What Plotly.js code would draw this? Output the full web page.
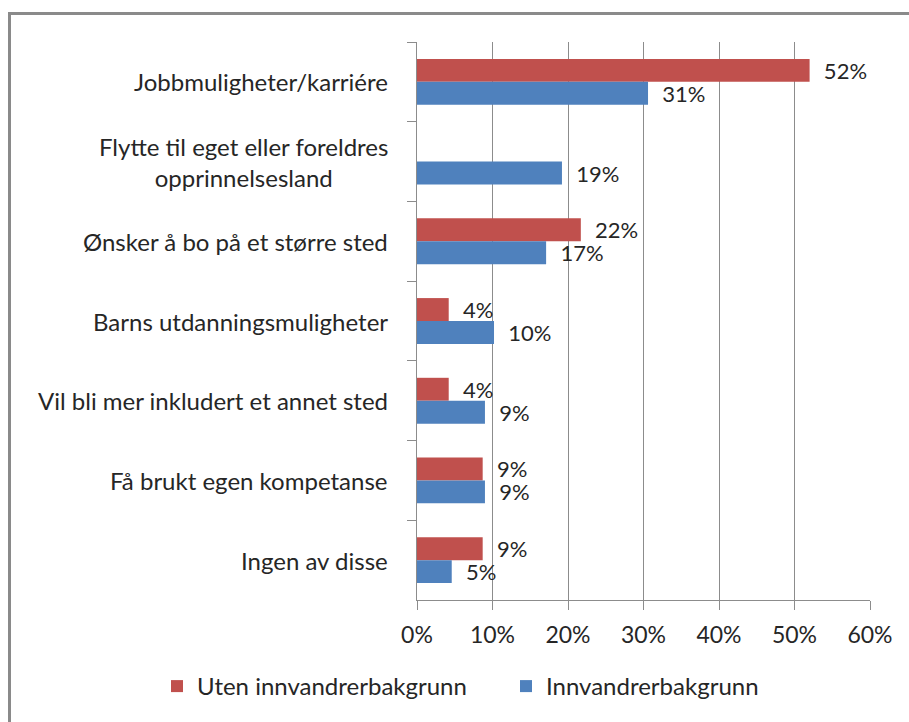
<!DOCTYPE html>
<html>
<head>
<meta charset="utf-8">
<script src="https://cdn.plot.ly/plotly-3.0.1.min.js"></script>
<style>
  html, body { margin: 0; padding: 0; background: #fff; }
  #wrap { position: relative; width: 909px; height: 722px; overflow: hidden; }
  #chart { position: absolute; left: 0; top: 0; width: 909px; height: 722px; }
  #frame { position: absolute; left: 8px; top: 12px; width: 1000px; height: 1000px;
           border: 3px solid #8a8a8a; box-sizing: border-box; pointer-events: none; }
</style>
</head>
<body>
<div id="wrap">
  <div id="chart"></div>
  <div id="frame"></div>
</div>
<script>
// Data
const categories = [
  "Jobbmuligheter/karriére",
  "Flytte til eget eller foreldres<br>opprinnelsesland",
  "Ønsker å bo på et større sted",
  "Barns utdanningsmuligheter",
  "Vil bli mer inkludert et annet sted",
  "Få brukt egen kompetanse",
  "Ingen av disse"
];
const seriesNames = ["Uten innvandrerbakgrunn", "Innvandrerbakgrunn"];
const utenValues = [52.0, null, 21.7, 4.2, 4.2, 8.7, 8.7];
const innValues  = [30.6, 19.2, 17.1, 10.2, 9.0, 9.0, 4.6];
const xTicks = [0, 10, 20, 30, 40, 50, 60];

const FONT = "Lato, 'Open Sans', sans-serif";
const TXT = "#262626";
const GRID = "#8c8c8c";
const FS = 24;
const pad = "\u00a0\u00a0";

const common = {
  type: "bar",
  orientation: "h",
  y: categories,
  textposition: "outside",
  texttemplate: pad + "%{x:.0f}%",
  textfont: { family: FONT, size: 22, color: TXT },
  cliponaxis: false,
  constraintext: "none",
  hoverinfo: "skip"
};

const traces = [
  Object.assign({}, common, { name: seriesNames[0], x: utenValues, marker: { color: "#C0504D" } }),
  Object.assign({}, common, { name: seriesNames[1], x: innValues, marker: { color: "#4F81BD" } })
];

const annotations = categories.map(c => ({
  xref: "paper", yref: "y", x: 0, y: c,
  xanchor: "right", yanchor: "middle", xshift: -27,
  text: c, align: "center", showarrow: false,
  font: { family: FONT, size: FS, color: TXT }
}));

const layout = {
  width: 909, height: 722,
  margin: { l: 417, r: 39, t: 42, b: 122 },
  paper_bgcolor: "rgba(0,0,0,0)",
  plot_bgcolor: "#fff",
  barmode: "group",
  bargap: 0.425,
  bargroupgap: 0,
  showlegend: true,
  font: { family: FONT, size: FS, color: TXT },
  xaxis: {
    range: [0, 60],
    tickvals: xTicks,
    ticktext: xTicks.map(v => v + "%"),
    showgrid: true, gridcolor: GRID, gridwidth: 1,
    showline: true, linecolor: GRID, linewidth: 1,
    ticks: "outside", ticklen: 9, tickcolor: GRID,
    ticklabelstandoff: 5,
    tickfont: { family: FONT, size: 23, color: TXT },
    zeroline: false, fixedrange: true
  },
  yaxis: {
    type: "category",
    autorange: "reversed",
    showticklabels: false,
    showgrid: false,
    showline: true, linecolor: GRID, linewidth: 1,
    ticks: "outside", ticklen: 9, tickcolor: GRID,
    tickson: "boundaries",
    zeroline: false, fixedrange: true
  },
  legend: {
    orientation: "h",
    xref: "paper", yref: "paper",
    x: -(417 - 157) / 453, xanchor: "left",
    y: -(709 - 600) / 558, yanchor: "bottom",
    entrywidth: 304, entrywidthmode: "pixels",
    font: { family: FONT, size: FS, color: TXT },
    bgcolor: "rgba(0,0,0,0)"
  },
  annotations: annotations
};

Plotly.newPlot("chart", traces, layout, { displayModeBar: false, staticPlot: true });
</script>
</body>
</html>
